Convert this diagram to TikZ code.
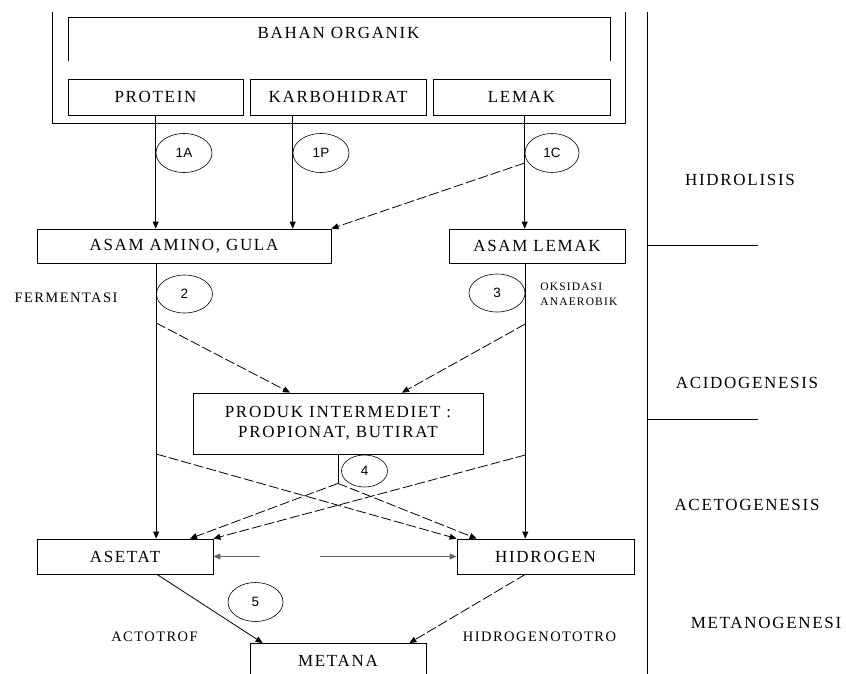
\documentclass[tikz,border=0pt]{standalone}
\usepackage{fontspec}
\setmainfont{Liberation Serif}
\newfontfamily\rf[LetterSpace=10]{Liberation Serif}
\newfontfamily\nf{Liberation Sans}
\usetikzlibrary{arrows.meta,calc,shapes.geometric}
\tikzset{
 box/.style={draw, rectangle, inner sep=0pt, font=\rf\fontsize{17}{20}\selectfont},
 ell/.style={draw, ellipse, inner sep=0pt, line width=0.6pt, font=\nf\fontsize{13.5}{15}\selectfont},
 lbl/.style={font=\rf\fontsize{14.5}{17}\selectfont, inner sep=0pt},
 stage/.style={font=\rf\fontsize{17}{20}\selectfont, inner sep=0pt},
 arr/.style={-{Triangle[length=7pt,width=6pt]}},
 dsh/.style={dash pattern=on 10pt off 3pt}
}
\begin{document}
\begin{tikzpicture}[x=1pt,y=-1pt, line width=0.8pt]
\useasboundingbox (0,0) rectangle (846,674);
\clip (0,0) rectangle (846,674);
% frames
\draw (52,12) -- (52,123) -- (625,123) -- (625,12);
\draw (68,61) -- (68,17) -- (610,17) -- (610,61);
\node[stage] (bahan) at (338.5,33) {BAHAN ORGANIK};
% boxes
\node[box, minimum width=175pt, minimum height=36pt] (protein) at (155.5,97) {PROTEIN};
\node[box, minimum width=176pt, minimum height=36pt] (karbo) at (338,97) {KARBOHIDRAT};
\node[box, minimum width=177pt, minimum height=36pt] (lemak) at (521.5,97) {LEMAK};
\node[box, minimum width=294pt, minimum height=34pt] (aag) at (184,246) {ASAM AMINO, GULA};
\node[box, minimum width=176pt, minimum height=34pt] (al) at (537,246) {ASAM LEMAK};
\node[box, minimum width=290pt, minimum height=61pt, align=center] (produk) at (338,423.5) {PRODUK INTERMEDIET :\\PROPIONAT, BUTIRAT};
\node[box, minimum width=176pt, minimum height=35pt] (asetat) at (125,556.5) {ASETAT};
\node[box, minimum width=177pt, minimum height=35pt] (hidrogen) at (545.5,556.5) {HIDROGEN};
\node[box, minimum width=176pt, minimum height=34pt, anchor=north] (metana) at (338,643) {METANA};
% ellipses
\node[ell, minimum width=56pt, minimum height=39pt] (e1a) at (184,153) {1A};
\node[ell, minimum width=56pt, minimum height=39pt] (e1p) at (321,153) {1P};
\node[ell, minimum width=54pt, minimum height=39pt] (e1c) at (552,153) {1C};
\node[ell, minimum width=56pt, minimum height=38pt] (e2) at (184.5,294) {2};
\node[ell, minimum width=56pt, minimum height=38pt] (e3) at (497,293) {3};
\node[ell, minimum width=46pt, minimum height=32pt] (e4) at (364.5,471) {4};
\node[ell, minimum width=55pt, minimum height=39pt] (e5) at (255.5,602) {5};
% connectors
\draw[arr] (protein.south -| e1a.west) -- (aag.north -| e1a.west);
\draw[arr] (karbo.south -| e1p.west) -- (aag.north -| e1p.west);
\draw[arr] (lemak.south -| e1c.west) -- (al.north -| e1c.west);
\draw[arr,dsh] ($(e1c.west)+(0,10)$) -- (aag.north east);
\draw[arr] (aag.south -| e2.west) -- (asetat.north -| e2.west);
\draw[arr] (al.south -| e3.east) -- (hidrogen.north -| e3.east);
\draw[arr,dsh] ($(e2.west)+(0,29)$) -- ($(produk.north)+(-48,0)$);
\draw[arr,dsh] ($(e3.east)+(0,31)$) -- ($(produk.north)+(64,0)$);
\coordinate (p4) at ($(produk.south)+(0,29)$);
\draw (produk.south) -- (p4);
\draw[arr,dsh] (p4) -- ($(asetat.north)+(65,0)$);
\draw[arr,dsh] (p4) -- ($(hidrogen.north west)+(20,0)$);
\draw[arr,dsh] ($(e2.west)+(0,160)$) -- (hidrogen.north west);
\draw[arr,dsh] ($(e3.east)+(0,162)$) -- (asetat.north east);
\draw[{Triangle[length=7pt,width=6pt]}-{Triangle[length=7pt,width=6pt]}, black!60, dash pattern=on 40pt off 60pt on 300pt] (asetat.east) -- (hidrogen.west);
\draw[arr] ($(asetat.south)+(32,0)$) -- ($(metana.north west)+(13,0)$);
\draw[arr,dsh] (hidrogen.south -| e3.east) -- ($(metana.north east)+(-17,0)$);
% labels
\node[lbl] (ferm) at (66,298) {FERMENTASI};
\node[font=\rf\fontsize{11.5}{15}\selectfont, align=left, anchor=west, inner sep=0pt] (oks) at (540,294.5) {OKSIDASI\\ANAEROBIK};
\node[lbl] (acto) at (154.5,637) {ACTOTROF};
\node[lbl] (hidro) at (539.5,637) {HIDROGENOTOTRO};
% stages
\draw (647,12) -- (647,674);
\draw (647,245) -- (758,245);
\draw (647,419) -- (758,419);
\node[stage] (s1) at (740,180) {HIDROLISIS};
\node[stage] (s2) at (747,383) {ACIDOGENESIS};
\node[stage] (s3) at (747,505) {ACETOGENESIS};
\node[stage] (s4) at (766,623) {METANOGENESI};
\end{tikzpicture}
\end{document}
